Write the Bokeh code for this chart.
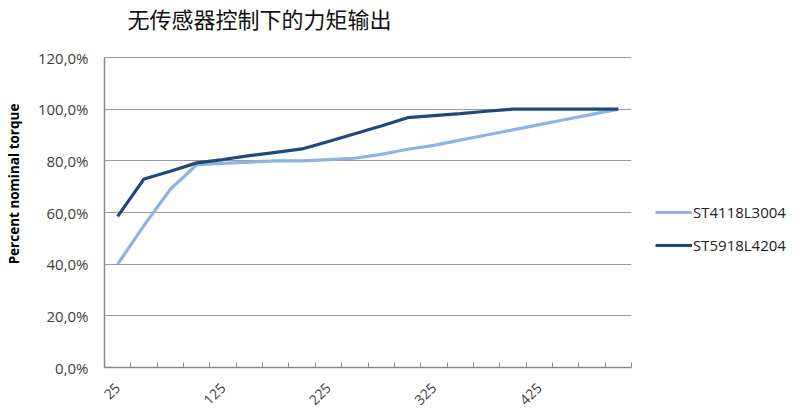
from bokeh.plotting import figure
from bokeh.models import FixedTicker, Legend, LegendItem, ColumnDataSource, Range1d, Label
from bokeh.embed import file_html
from bokeh.resources import INLINE

speeds = [25, 50, 75, 100, 125, 150, 175, 200, 225, 250,
          275, 300, 325, 350, 375, 400, 425, 450, 475, 500]
st4118 = [40.0, 55.0, 69.0, 78.5, 79.0, 79.5, 80.0, 80.0, 80.5, 81.0,
          82.5, 84.5, 86.0, 88.0, 90.0, 92.0, 94.0, 96.0, 98.0, 100.0]
st5918 = [58.5, 73.0, 76.0, 79.2, 80.5, 82.0, 83.3, 84.6, 87.5, 90.5,
          93.5, 96.7, 97.5, 98.3, 99.2, 100.0, 100.0, 100.0, 100.0, 100.0]
series_names = ["ST4118L3004", "ST5918L4204"]
y_ticks = [0, 20, 40, 60, 80, 100, 120]
y_labels = ["0,0%", "20,0%", "40,0%", "60,0%", "80,0%", "100,0%", "120,0%"]
x_label_ticks = [25, 125, 225, 325, 425]
title_text = "无传感器控制下的力矩输出"
y_title = "Percent nominal torque"

# layout constants
half_step = 12.5          # half a category width
plot_h = 310              # height of the 0..120 % area in px
top_space = 57            # space above it, holding the title
frame_h = plot_h + top_space
y_top = y_ticks[-1] * frame_h / plot_h

src = ColumnDataSource(dict(x=speeds, a=st4118, b=st5918))

p = figure(title=None, frame_width=527, frame_height=frame_h, output_backend="svg",
           toolbar_location=None,
           x_range=Range1d(speeds[0] - half_step, speeds[-1] + half_step),
           y_range=Range1d(0, y_top),
           min_border_left=104, min_border_right=169, min_border_top=0,
           min_border_bottom=43)
p.outline_line_color = None
p.background_fill_color = "white"

title = Label(x=23, y=frame_h - 17, x_units="screen", y_units="screen", text=title_text,
              text_font="Noto Sans CJK SC", text_font_size="22px",
              text_color="#111111", text_baseline="middle", text_align="left")
p.add_layout(title)

la = p.line("x", "a", source=src, line_color="#8DB4E2", line_width=3.2)
lb = p.line("x", "b", source=src, line_color="#1F497D", line_width=3.2)

# x axis: category boundary ticks (minor), labels at category centres
minor = [s - half_step for s in speeds] + [speeds[-1] + half_step]
p.xaxis.ticker = FixedTicker(ticks=x_label_ticks, minor_ticks=minor)
p.xaxis.major_tick_in = 0
p.xaxis.major_tick_out = 0
p.xaxis.minor_tick_in = 5
p.xaxis.minor_tick_out = 0
p.xaxis.minor_tick_line_color = "#888888"
p.xaxis.axis_line_color = "#888888"
p.xaxis.axis_line_width = 1.5
p.xaxis.major_label_orientation = 0.785398
p.xaxis.major_label_text_font = "Open Sans"
p.xaxis.major_label_text_font_size = "14px"
p.xaxis.major_label_text_color = "#404040"
p.xaxis.major_label_standoff = 18

p.yaxis.ticker = FixedTicker(ticks=y_ticks)
p.yaxis.bounds = (y_ticks[0], y_ticks[-1])
p.yaxis.major_label_overrides = {t: l for t, l in zip(y_ticks, y_labels)}
p.yaxis.major_tick_in = 0
p.yaxis.major_tick_out = 0
p.yaxis.minor_tick_line_color = None
p.yaxis.axis_line_color = "#888888"
p.yaxis.axis_line_width = 1.5
p.yaxis.major_label_text_font = "Open Sans"
p.yaxis.major_label_text_font_size = "15px"
p.yaxis.major_label_text_color = "#404040"
p.yaxis.major_label_standoff = 16
p.yaxis.axis_label = y_title
p.yaxis.axis_label_text_font = "Open Sans"
p.yaxis.axis_label_text_font_size = "13.5px"
p.yaxis.axis_label_text_font_style = "bold"
p.yaxis.axis_label_text_color = "#000000"
p.yaxis.axis_label_standoff = 12

p.xgrid.grid_line_color = None
p.ygrid.grid_line_color = "#999999"
p.ygrid.grid_line_width = 1

legend = Legend(items=[LegendItem(label=series_names[0], renderers=[la]),
                       LegendItem(label=series_names[1], renderers=[lb])],
                location=(24, 112), orientation="vertical")
legend.border_line_color = None
legend.background_fill_alpha = 0
legend.padding = 0
legend.margin = 0
legend.spacing = 13
legend.glyph_width = 37
legend.glyph_height = 20
legend.label_standoff = 1
legend.label_text_font = "Open Sans"
legend.label_text_font_size = "15px"
legend.label_text_color = "#222222"
p.add_layout(legend, "right")

open("out.html", "w").write(file_html(p, INLINE))
